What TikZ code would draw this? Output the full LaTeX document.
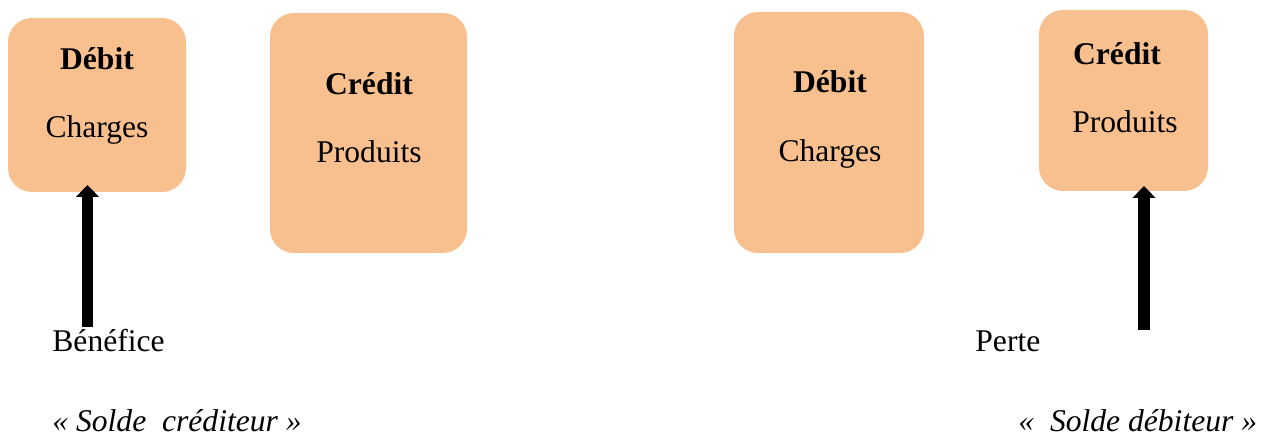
\documentclass[tikz,border=0pt]{standalone}
\usepackage{fontspec}
\setmainfont{Liberation Serif}
\usetikzlibrary{arrows.meta}
\definecolor{boxfill}{RGB}{249,192,143}
\begin{document}
\begin{tikzpicture}[x=0.5pt,y=-0.5pt,
  account/.style={fill=boxfill,rounded corners=12pt},
  lbl/.style={anchor=base,inner sep=0pt,font=\fontsize{15.8}{19}\selectfont},
  lblw/.style={anchor=base west,inner sep=0pt,font=\fontsize{15.8}{19}\selectfont},
  balance/.style={line width=5.75pt,-{Triangle[width=11.25pt,length=6pt]}}]
\useasboundingbox (0,0) rectangle (1266,437);
% account boxes
\fill[account] (8,18) rectangle (186,192);
\fill[account] (270,13) rectangle (467,253);
\fill[account] (734,12) rectangle (924,253);
\fill[account] (1039,10) rectangle (1208,191);
% left account: balance on the credit side
\node[lbl,font=\fontsize{15.8}{19}\selectfont\bfseries] (d1) at (97,70) {Débit};
\node[lbl] (c1) at (97,138) {Charges};
\node[lbl,font=\fontsize{15.8}{19}\selectfont\bfseries] (cr1) at (369,95) {Crédit};
\node[lbl] (p1) at (369,163) {Produits};
% right account: balance on the debit side
\node[lbl,font=\fontsize{15.8}{19}\selectfont\bfseries] (d2) at (830,93) {Débit};
\node[lbl] (c2) at (830,162) {Charges};
\node[lbl,font=\fontsize{15.8}{19}\selectfont\bfseries] (cr2) at (1117,65) {Crédit};
\node[lbl] (p2) at (1125,133) {Produits};
% result labels
\node[lblw] (ben) at (52,352) {Bénéfice};
\node[lblw] (per) at (975,352) {Perte};
\node[lblw,font=\fontsize{15.8}{19}\selectfont\itshape] (sc) at (52,432) {« Solde\ \ créditeur »};
\node[lblw,font=\fontsize{15.8}{19}\selectfont\itshape] (sd) at (1018,432) {«\ \ Solde débiteur »};
% arrows
\coordinate (a1s) at (87.5,327);
\coordinate (a1e) at (87.5,185);
\coordinate (a2s) at (1144,330);
\coordinate (a2e) at (1144,186);
\draw[balance] (a1s) -- (a1e);
\draw[balance] (a2s) -- (a2e);
\end{tikzpicture}
\end{document}
